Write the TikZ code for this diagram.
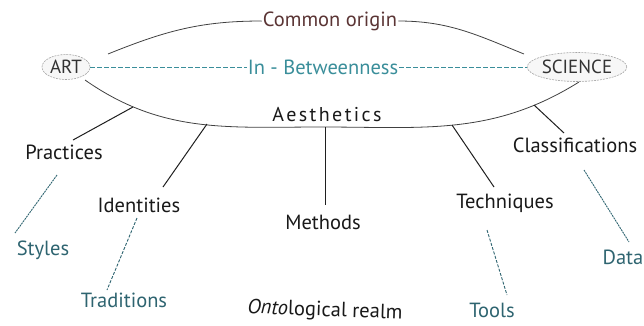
\documentclass[tikz,border=0pt]{standalone}
\usepackage{fontspec}
\setmainfont{PT Sans}
\usetikzlibrary{shapes.geometric}
\begin{document}
\begin{tikzpicture}[x=1pt,y=-1pt,
  lbl/.style={font=\fontsize{20.5}{23}\selectfont, text=black!90, inner sep=1pt},
  sub/.style={lbl, text=tealdk},
  endnode/.style={ellipse, draw=black!35, dash pattern=on 2pt off 1pt, fill=black!3, inner sep=0pt, line width=0.6pt, font=\fontsize{19}{21}\selectfont, text=black!80},
  solidc/.style={draw=black!88, line width=1pt},
  dashc/.style={draw=tealdk, line width=0.9pt, dash pattern=on 3pt off 1.5pt},
  arcline/.style={draw=black!75, line width=0.8pt}
]
\definecolor{tealdk}{HTML}{2E6470}
\definecolor{tealmd}{HTML}{3A8E9A}
\definecolor{brownish}{HTML}{5B3535}
\useasboundingbox (0,0) rectangle (644,325);

% end nodes
\node[endnode, minimum width=48pt, minimum height=25pt] (art) at (66,67) {ART};
\node[endnode, minimum width=96pt, minimum height=29pt] (sci) at (577,67) {SCIENCE};

% ellipse labels
\node[lbl, text=brownish] (orig) at (330,21) {Common origin};
\node[lbl, text=tealmd] (betw) at (323,67) {In - Betweenness};
\node[lbl, font=\fontsize{20}{23}\selectfont\addfontfeature{LetterSpace=12}] (aest) at (327,115) {Aesthetics};

% arcs
\coordinate (tl) at (108,54);
\coordinate (tr) at (524,54);
\coordinate (bl) at (85,80);
\coordinate (bm) at (322,127);
\coordinate (br) at (579,82);
\draw[arcline] (tl) to[out=22,in=180] (orig.west);
\draw[arcline] (orig.east) to[out=0,in=158] (tr);
\draw[arcline] (bl) to[out=-35,in=180] (bm) to[out=0,in=-148] (br);

% in-between dashed
\draw[draw=tealmd, line width=0.9pt, dash pattern=on 5pt off 2pt] (art.east) -- (betw.west);
\draw[draw=tealmd, line width=0.9pt, dash pattern=on 5pt off 2pt] (betw.east) -- (sci.west);

% level-1 nodes
\node[lbl] (prac) at (64,152) {Practices};
\node[lbl] (iden) at (139,205) {Identities};
\node[lbl] (meth) at (323,222) {Methods};
\node[lbl] (tech) at (505,203) {Techniques};
\node[lbl] (clas) at (575,145) {Classifications};

% level-2 nodes
\node[sub] (styl) at (43,250) {Styles};
\node[sub] (trad) at (124,300) {Traditions};
\node[sub] (tool) at (492,310) {Tools};
\node[sub] (data) at (623,257) {Data};

\node[lbl, rotate=-2] (onto) at (325,311) {\textit{Onto}logical realm};

% attachment points on ellipse
\coordinate (a1) at (133,107);
\coordinate (a2) at (207,124);
\coordinate (a3) at (325,127);
\coordinate (a4) at (452,125);
\coordinate (a5) at (534,105);

\draw[solidc] (a1) -- (73,140) coordinate (p1);
\draw[solidc] (a2) -- (163,187) coordinate (p2);
\draw[solidc] (a3) -- (325,205) coordinate (p3);
\draw[solidc] (a4) -- (494,187) coordinate (p4);
\draw[solidc] (a5) -- (564,133) coordinate (p5);

\coordinate (s1) at (57,175); \coordinate (e1) at (15,233);
\coordinate (s2) at (137,218); \coordinate (e2) at (107,290);
\coordinate (s3) at (487,230); \coordinate (e3) at (507,295);
\coordinate (s4) at (584,170); \coordinate (e4) at (629,242);
\draw[draw=tealdk, line width=0.9pt, dash pattern=on 2pt off 0.8pt] (s1) -- (e1);
\draw[dashc] (s2) -- (e2);
\draw[dashc] (s3) -- (e3);
\draw[draw=tealdk, line width=0.9pt, dash pattern=on 2pt off 0.8pt] (s4) -- (e4);
\end{tikzpicture}
\end{document}
